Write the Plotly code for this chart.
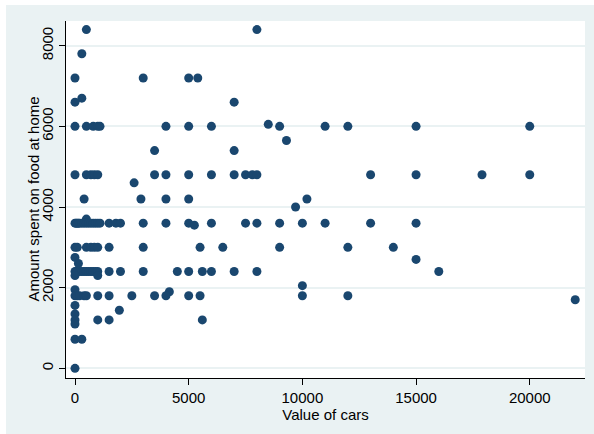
import plotly.graph_objects as go

# Value of cars (x) and amount spent on food at home (y), one entry per household
car_value = [
    500, 8000,
    300,
    0, 3000, 5000, 5400,
    300,
    0, 7000,
    0, 500, 800, 1000, 1100, 4000, 5000, 6000, 9000, 11000, 12000, 15000, 20000,
    8500,
    9300,
    3500, 7000,
    0, 500, 700, 850, 1000, 3500, 4000, 5000, 6000, 7000, 7500, 7800, 8000,
    13000, 15000, 17900, 20000,
    2600,
    400, 2900, 4000, 5000, 10200,
    9700,
    500,
    0, 50, 100, 150, 200, 300, 400, 500, 600, 700, 800, 900, 1000, 1100, 1500,
    1800, 2000, 3000, 4000, 5000, 6000, 7500, 8000, 9000, 10000, 11000, 13000, 15000,
    5250,
    0, 100, 500, 700, 850, 1000, 1500, 3000, 5500, 6500, 9000, 12000, 14000,
    0, 150, 15000,
    0, 50, 100, 200, 300, 400, 500, 600, 700, 800, 900, 1000, 1500, 2000, 3000,
    4500, 5000, 5600, 6000, 7000, 8000, 16000,
    0, 1000,
    10000,
    0, 4150,
    0, 100, 200, 400, 500, 1000, 1500, 2500, 3500, 4000, 5000, 5500, 10000, 12000,
    22000,
    0, 1950,
    0,
    0, 1000, 1500, 5600,
    0,
    0, 300,
    0,
]

food_home = [
    8400, 8400,
    7800,
    7200, 7200, 7200, 7200,
    6700,
    6600, 6600,
    6000, 6000, 6000, 6000, 6000, 6000, 6000, 6000, 6000, 6000, 6000, 6000, 6000,
    6050,
    5650,
    5400, 5400,
    4800, 4800, 4800, 4800, 4800, 4800, 4800, 4800, 4800, 4800, 4800, 4800, 4800,
    4800, 4800, 4800, 4800,
    4600,
    4200, 4200, 4200, 4200, 4200,
    4000,
    3700,
    3600, 3600, 3600, 3600, 3600, 3600, 3600, 3600, 3600, 3600, 3600, 3600, 3600, 3600, 3600,
    3600, 3600, 3600, 3600, 3600, 3600, 3600, 3600, 3600, 3600, 3600, 3600, 3600,
    3550,
    3000, 3000, 3000, 3000, 3000, 3000, 3000, 3000, 3000, 3000, 3000, 3000, 3000,
    2750, 2600, 2700,
    2400, 2400, 2400, 2400, 2400, 2400, 2400, 2400, 2400, 2400, 2400, 2400, 2400, 2400, 2400,
    2400, 2400, 2400, 2400, 2400, 2400, 2400,
    2300, 2300,
    2050,
    1950, 1900,
    1800, 1800, 1800, 1800, 1800, 1800, 1800, 1800, 1800, 1800, 1800, 1800, 1800, 1800,
    1700,
    1560, 1440,
    1350,
    1200, 1200, 1200, 1200,
    1100,
    720, 720,
    0,
]

x_ticks = [0, 5000, 10000, 15000, 20000]
y_ticks = [0, 2000, 4000, 6000, 8000]

W, H = 594, 434
ML, MR, MT, MB = 66, 9, 21, 56
PW, PH = W - ML - MR, H - MT - MB

REGION = "#EAF2F3"
NAVY = "#1A476F"
FONT = "Liberation Sans, Arial, sans-serif"
FS = 15

fig = go.Figure(
    go.Scatter(
        x=car_value,
        y=food_home,
        mode="markers",
        marker=dict(color=NAVY, size=9, line=dict(width=0)),
        hoverinfo="x+y",
    )
)


def px_x(p):
    return (p - ML) / PW


def px_y(p):
    return (H - MB - p) / PH


# thin white border along the top and left edges of the graph region
fig.add_shape(type="rect", xref="paper", yref="paper",
              x0=px_x(0), x1=px_x(W), y0=px_y(5), y1=px_y(0),
              fillcolor="white", line_width=0, layer="above")
fig.add_shape(type="rect", xref="paper", yref="paper",
              x0=px_x(0), x1=px_x(6), y0=px_y(H), y1=px_y(0),
              fillcolor="white", line_width=0, layer="above")

# vertical y-axis title, centred on the plot height
fig.add_annotation(
    text="Amount spent on food at home",
    xref="paper", yref="paper",
    x=px_x(33), y=0.5,
    xanchor="center", yanchor="middle",
    textangle=-90,
    showarrow=False,
    font=dict(family=FONT, size=FS, color="black"),
)

fig.update_layout(
    width=W,
    height=H,
    margin=dict(l=ML, r=MR, t=MT, b=MB, pad=0),
    paper_bgcolor=REGION,
    plot_bgcolor="white",
    showlegend=False,
    font=dict(family=FONT, size=FS, color="black"),
)

fig.update_xaxes(
    range=[-396, 22430],
    tickvals=x_ticks,
    ticktext=[str(v) for v in x_ticks],
    ticks="outside",
    ticklen=6,
    tickcolor="black",
    showline=True,
    linecolor="black",
    linewidth=1,
    showgrid=False,
    zeroline=False,
    title=dict(text="Value of cars", standoff=0, font=dict(size=FS)),
    tickfont=dict(size=FS),
    automargin=False,
)

fig.update_yaxes(
    range=[-240, 8613],
    tickvals=y_ticks,
    ticktext=[str(v) for v in y_ticks],
    tickangle=-90,
    ticks="outside",
    ticklen=6,
    tickcolor="black",
    showline=True,
    linecolor="black",
    linewidth=1,
    showgrid=True,
    gridcolor=REGION,
    gridwidth=1.5,
    zeroline=False,
    tickfont=dict(size=FS),
    automargin=False,
)

fig.write_html("out.html")
